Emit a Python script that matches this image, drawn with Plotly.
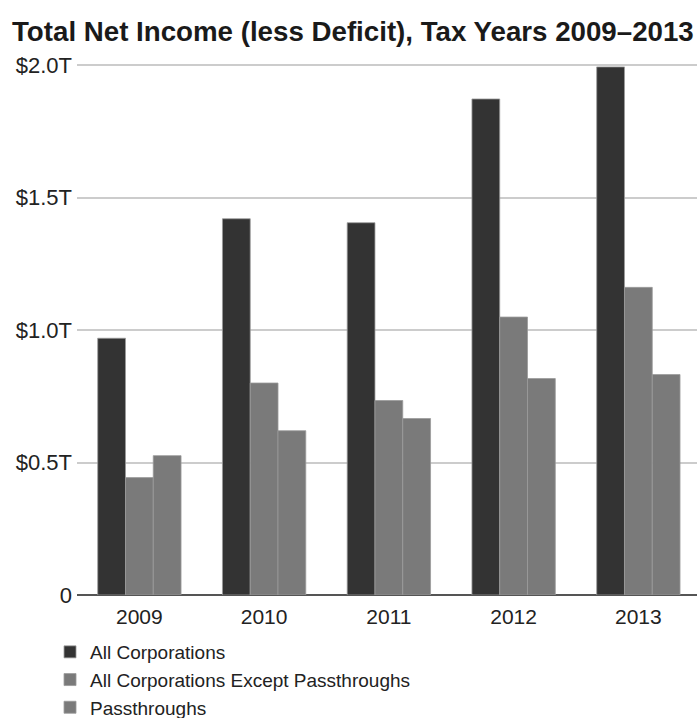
import plotly.graph_objects as go

years = ["2009", "2010", "2011", "2012", "2013"]
all_corps = [0.969, 1.42, 1.405, 1.872, 1.993]
except_pass = [0.443, 0.80, 0.734, 1.049, 1.161]
passthroughs = [0.526, 0.62, 0.666, 0.817, 0.832]
series_names = ["All Corporations", "All Corporations Except Passthroughs", "Passthroughs"]
tick_vals = [0, 0.5, 1.0, 1.5, 2.0]
tick_text = ["0", "$0.5T", "$1.0T", "$1.5T", "$2.0T"]

colors = ["#333333", "#7a7a7a", "#7a7a7a"]
font = "Liberation Sans, Arial, sans-serif"

fig = go.Figure()
for name, vals, col in zip(series_names, [all_corps, except_pass, passthroughs], colors):
    fig.add_trace(go.Bar(
        x=years, y=vals, name=name,
        marker=dict(color=col, line=dict(color="#9a9a9a", width=0.8)),
    ))

fig.update_layout(
    width=697, height=718,
    margin=dict(l=77, r=0, t=64, b=123, autoexpand=False),
    paper_bgcolor="white", plot_bgcolor="white",
    barmode="group", bargap=0.332, bargroupgap=0,
    font=dict(family=font, color="#222222"),
    title=dict(
        text="<b>Total Net Income (less Deficit), Tax Years 2009–2013</b>",
        font=dict(family=font, size=27.7, color="#1a1a1a"),
        xref="container", yref="container",
        x=12/697, xanchor="left",
        y=1 - 31/718, yanchor="middle",
    ),
    xaxis=dict(
        type="category", range=[-0.5, 4.47],
        showgrid=False, showline=False, zeroline=False,
        tickfont=dict(size=21, color="#222222"),
        ticks="", ticklabelstandoff=7,
    ),
    yaxis=dict(
        range=[0, 2.004],
        tickvals=tick_vals, ticktext=tick_text,
        showgrid=True, gridcolor="#cccccc", gridwidth=1.5,
        zeroline=True, zerolinecolor="#555555", zerolinewidth=2,
        showline=False, ticks="",
        tickfont=dict(size=22, color="#222222"),
        ticklabelstandoff=4,
    ),
    legend=dict(
        orientation="v",
        x=-0.0435, xanchor="left",
        yref="container",
        y=1 - 633/718, yanchor="top",
        font=dict(size=19, color="#222222"),
        traceorder="normal",
        tracegroupgap=0,
        bgcolor="rgba(0,0,0,0)",
    ),
)

fig.write_html("out.html")
